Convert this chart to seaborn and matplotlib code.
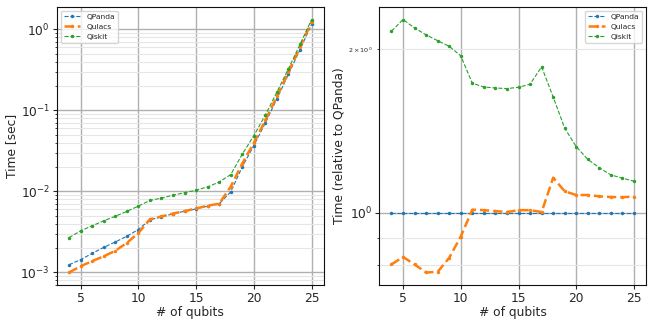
import matplotlib
matplotlib.use("Agg")
import matplotlib.pyplot as plt
import seaborn as sns
import numpy as np

# number of qubits
qubits = list(range(4, 26))

# QPanda absolute run time [sec]
qpanda_time = [1.245e-3, 1.44e-3, 1.72e-3, 2.04e-3, 2.38e-3, 2.80e-3, 3.39e-3, 4.47e-3,
               4.86e-3, 5.30e-3, 5.70e-3, 6.10e-3, 6.60e-3, 7.05e-3, 9.9e-3, 0.0202,
               0.0369, 0.0703, 0.1396, 0.28, 0.565, 1.16]

# run time relative to QPanda
qulacs_ratio = [0.803, 0.829, 0.803, 0.776, 0.778, 0.826, 0.904, 1.013, 1.011, 1.007, 1.003,
                1.011, 1.011, 1.003, 1.16, 1.095, 1.078, 1.078, 1.072, 1.069, 1.068, 1.071]
qiskit_ratio = [2.16, 2.27, 2.19, 2.127, 2.075, 2.026, 1.946, 1.732, 1.705, 1.698, 1.693,
                1.703, 1.725, 1.857, 1.634, 1.431, 1.323, 1.254, 1.21, 1.174, 1.158, 1.143]

names = ["QPanda", "Qulacs", "Qiskit"]
colors = ["#1f77b4", "#ff7f0e", "#2ca02c"]
widths = [0.8, 1.8, 0.8]

sns.set_style("ticks")
plt.rcParams['font.family'] = ['DejaVu Sans']

qp = np.array(qpanda_time)
times = [qp, qp * np.array(qulacs_ratio), qp * np.array(qiskit_ratio)]
ratios = [np.ones(len(qubits)), np.array(qulacs_ratio), np.array(qiskit_ratio)]

fig = plt.figure(figsize=(6.54, 3.27), dpi=100)
ax1 = fig.add_axes([0.087, 0.128, 0.408, 0.851])
ax2 = fig.add_axes([0.58, 0.128, 0.408, 0.851])

for ax, series in [(ax1, times), (ax2, ratios)]:
    for name, col, lw, y in zip(names, colors, widths, series):
        sns.lineplot(x=qubits, y=y, ax=ax, label=name, color=col, linestyle='--',
                     marker='.', markersize=5, markeredgewidth=0, lw=lw)
    ax.set_yscale('log')
    ax.grid(which='major', color='#b0b0b0', lw=1)
    ax.grid(which='minor', color='#e6e6e6', lw=0.8)
    ax.set_xlabel("# of qubits", fontsize=8.8, labelpad=1)
    ax.tick_params(which='major', labelsize=8.8, length=3, width=0.8, pad=2)
    ax.tick_params(which='minor', labelsize=4.6, length=1.5, width=0.6)
    for s in ax.spines.values():
        s.set_linewidth(0.8)
        s.set_color('#111111')
    ax.set_xticks([5, 10, 15, 20, 25])

ax1.set_ylabel("Time [sec]", fontsize=8.8, labelpad=2)
ax2.set_ylabel("Time (relative to QPanda)", fontsize=8.8, labelpad=2)

ax1.legend(loc='upper left', fontsize=5.4, handlelength=2.2)
ax2.legend(loc='upper right', fontsize=5.4, handlelength=2.2)

plt.savefig("out.png", dpi=100)
plt.close('all')
